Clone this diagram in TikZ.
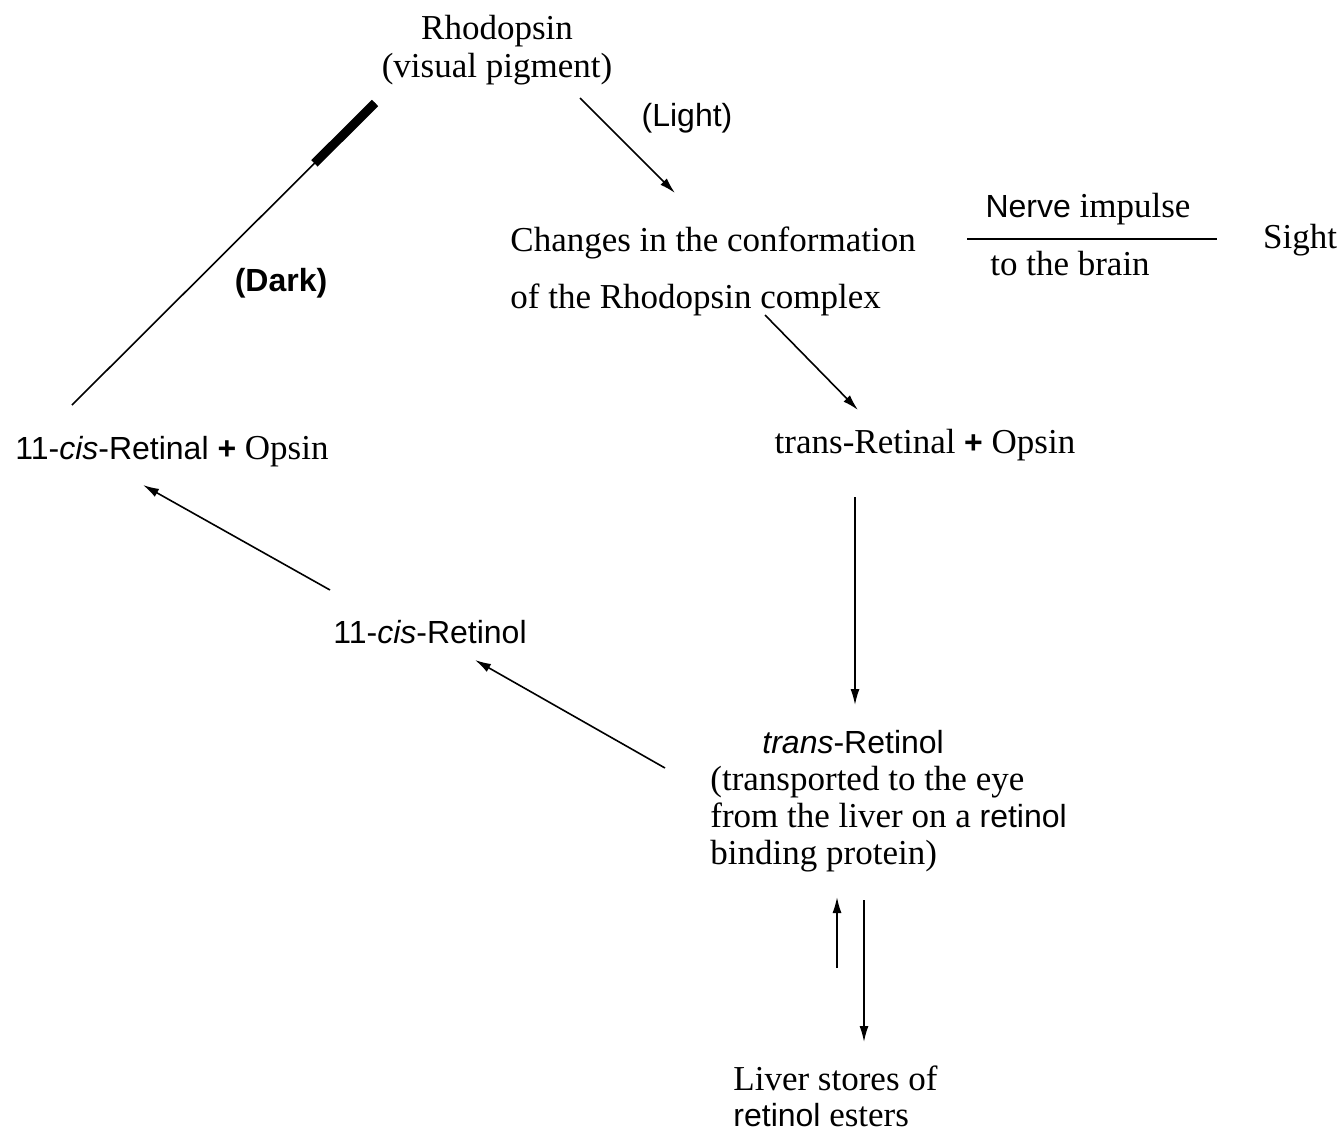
\documentclass[tikz,border=0pt]{standalone}
\usepackage{fontspec}
\setmainfont{Liberation Serif}
\setsansfont{Liberation Sans}
\usetikzlibrary{arrows.meta,calc}
\newcommand{\sanstxt}[1]{{\sffamily\fontsize{16}{19}\selectfont #1}}

\begin{document}
\begin{tikzpicture}[x=0.5pt,y=-0.5pt,
    txt/.style={inner sep=0pt,font=\fontsize{17.5}{19}\selectfont},
    arr/.style={line width=0.8pt,-{Latex[length=8pt,width=4.5pt]}},
    plain/.style={line width=0.8pt}]
  \useasboundingbox (0,0) rectangle (1342,1134);
  % pigment and light branch
  \node[txt,align=center] (rhod) at (497,50) {Rhodopsin\\(visual pigment)};
  \node[txt] (light) at (687,118) {\sanstxt{(Light)}};
  \node[txt] (dark) at (281,283) {\sanstxt{\bfseries(Dark)}};
  \node[txt,align=left,anchor=west,font=\fontsize{17.5}{28.5}\selectfont] (changes) at (510,271)
    {Changes in the conformation\\of the Rhodopsin complex};
  \node[txt] (nerve) at (1088,209) {\sanstxt{Nerve} impulse};
  \node[txt] (brain) at (1070,264) {to the brain};
  \node[txt] (sight) at (1300,240) {Sight};
  \node[txt] (transal) at (925,445) {trans-Retinal \sanstxt{\bfseries+} Opsin};
  \node[txt,anchor=west] (cisal) at (15,452) {\sanstxt{11-\textit{cis}-Retinal \bfseries+} Opsin};
  \node[txt] (cisol) at (430,632) {\sanstxt{11-\textit{cis}-Retinol}};
  \node[txt,align=left,anchor=west,font=\fontsize{17.5}{18.5}\selectfont] (transol) at (710,801)
    {\hspace*{26pt}\sanstxt{\textit{trans}-Retinol}\\(transported to the eye\\from the liver on a \sanstxt{retinol}\\binding protein)};
  \node[txt,align=left,anchor=west,font=\fontsize{17.5}{18}\selectfont] (liver) at (733,1096)
    {Liver stores of\\\sanstxt{retinol} esters};

  % cycle
  \draw[arr] ([shift={(83,48)}]rhod.center) -- ([shift={(165,-78)}]changes.west);
  \draw[line width=0.75pt] ([shift={(-121,30)}]nerve.center) -- ([shift={(129,30)}]nerve.center);
  \draw[arr] ([shift={(255,44)}]changes.west) -- ([shift={(-67,-35)}]transal.center);
  \draw[arr] ([shift={(-70,52)}]transal.center) -- ([shift={(145,-96)}]transol.west);
  \draw[arr] ([shift={(-45,-33)}]transol.west) -- ([shift={(45,28)}]cisol.center);
  \draw[arr] ([shift={(-100,-42)}]cisol.center) -- ([shift={(128,33)}]cisal.west);
  \path ([shift={(57,-47)}]cisal.west) coordinate (d0) ([shift={(-122,53)}]rhod.center) coordinate (d1);
  \draw[plain] (d0) -- (d1);
  \draw[line width=4.5pt] ($(d0)!0.8!(d1)$) -- (d1);

  % liver storage
  \draw[arr] ([shift={(104,-128)}]liver.west) -- ([shift={(127,96)}]transol.west);
  \draw[arr] ([shift={(154,99)}]transol.west) -- ([shift={(131,-54)}]liver.west);
\end{tikzpicture}
\end{document}
